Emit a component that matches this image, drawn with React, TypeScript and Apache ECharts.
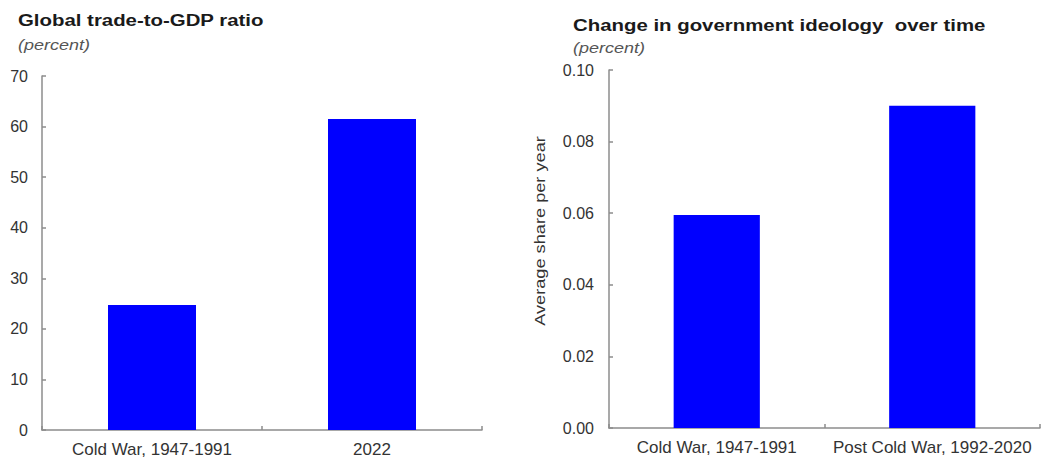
import React, { useEffect, useRef } from "react";
import * as echarts from "echarts";

// Left panel: global trade-to-GDP ratio (percent)
const tradeCategories = ["Cold War, 1947-1991", "2022"];
const tradeValues = [24.7, 61.5];

// Right panel: change in government ideology, average share per year
const ideologyCategories = ["Cold War, 1947-1991", "Post Cold War, 1992-2020"];
const ideologyValues = [0.0595, 0.09];

const FONT = "Liberation Sans, Arial, sans-serif";
const AXIS_COLOR = "#8c8c8c";
const LABEL_COLOR = "#333333";
const BAR_COLOR = "#0000ff";

// Panel headings are drawn slightly widened
const HEAD_SCALE = 1.2;

function heading(text: string, x: number, y: number) {
  return {
    type: "text",
    x,
    y,
    scaleX: HEAD_SCALE,
    style: {
      text,
      font: `bold 17px ${FONT}`,
      fill: "#1a1a1a",
      textVerticalAlign: "middle",
    },
  };
}

function unit(text: string, x: number, y: number) {
  return {
    type: "text",
    x,
    y,
    scaleX: HEAD_SCALE,
    style: {
      text,
      font: `italic 15px ${FONT}`,
      fill: "#555555",
      textVerticalAlign: "middle",
    },
  };
}

export default function App() {
  const ref = useRef<HTMLDivElement>(null);

  useEffect(() => {
    if (!ref.current) return;
    const chart = echarts.init(ref.current, undefined, { renderer: "svg" });

    const axisLine = { show: true, lineStyle: { color: AXIS_COLOR, width: 1.5 } };
    const axisTick = { show: true, inside: true, length: 4, lineStyle: { color: AXIS_COLOR, width: 1.5 } };
    const axisLabel = { color: LABEL_COLOR, fontSize: 17, fontFamily: FONT };

    chart.setOption({
      animation: false,
      backgroundColor: "#ffffff",
      textStyle: { fontFamily: FONT },
      graphic: [
        heading("Global trade-to-GDP ratio", 18, 20),
        unit("(percent)", 18, 45),
        heading("Change in government ideology  over time", 573, 25),
        unit("(percent)", 573, 48),
        // Vertical axis title of the right panel
        {
          type: "text",
          x: 540,
          y: 231,
          rotation: Math.PI / 2,
          scaleX: 1.3,
          style: {
            text: "Average share per year",
            font: `14px ${FONT}`,
            fill: LABEL_COLOR,
            textAlign: "center",
            textVerticalAlign: "middle",
          },
        },
      ],
      grid: [
        { left: 42, right: 565, top: 76, bottom: 30, containLabel: false },
        { left: 609, right: 7, top: 70, bottom: 32, containLabel: false },
      ],
      xAxis: [
        {
          type: "category",
          gridIndex: 0,
          data: tradeCategories,
          axisLine,
          axisTick,
          axisLabel: { ...axisLabel, margin: 11 },
        },
        {
          type: "category",
          gridIndex: 1,
          data: ideologyCategories,
          axisLine,
          axisTick,
          axisLabel: { ...axisLabel, margin: 11, interval: 0 },
        },
      ],
      yAxis: [
        {
          type: "value",
          gridIndex: 0,
          min: 0,
          max: 70,
          interval: 10,
          axisLine,
          axisTick,
          splitLine: { show: false },
          axisLabel: { ...axisLabel, fontSize: 16, margin: 14 },
        },
        {
          type: "value",
          gridIndex: 1,
          min: 0,
          max: 0.1,
          interval: 0.02,
          axisLine,
          axisTick,
          splitLine: { show: false },
          axisLabel: { ...axisLabel, fontSize: 16, margin: 15, formatter: (v: number) => v.toFixed(2) },
        },
      ],
      series: [
        {
          type: "bar",
          xAxisIndex: 0,
          yAxisIndex: 0,
          data: tradeValues,
          barWidth: "40%",
          itemStyle: { color: BAR_COLOR },
        },
        {
          type: "bar",
          xAxisIndex: 1,
          yAxisIndex: 1,
          data: ideologyValues,
          barWidth: "40%",
          itemStyle: { color: BAR_COLOR },
        },
      ],
    });

    return () => chart.dispose();
  }, []);

  return (
    <div
      ref={ref}
      style={{ position: "fixed", left: 0, top: 0, width: 1047, height: 460, background: "#fff" }}
    />
  );
}
